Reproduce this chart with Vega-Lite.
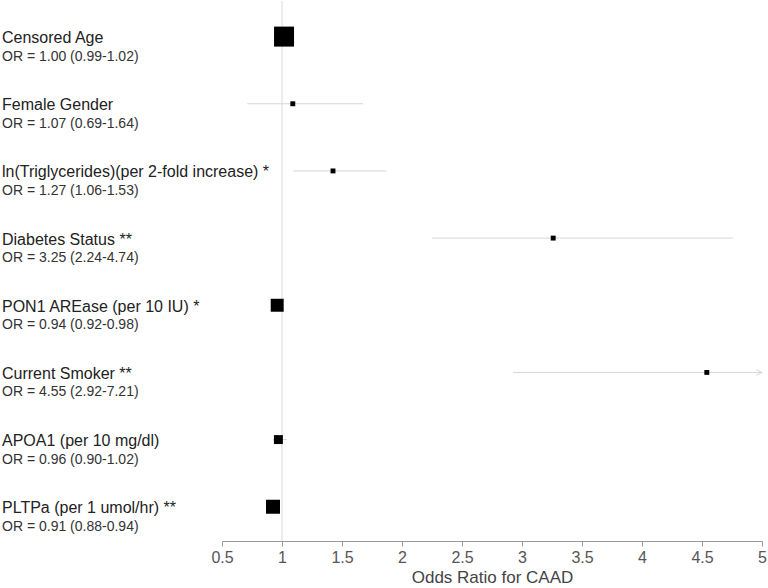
{
  "$schema": "https://vega.github.io/schema/vega-lite/v6.json",
  "padding": {"left": 2, "top": 0, "right": 0, "bottom": 0},
  "background": "white",
  "config": {"view": {"stroke": null}, "font": "Liberation Sans"},
  "datasets": {
    "rows": [
      {"row": 0, "label": "Censored Age", "orText": "OR = 1.00 (0.99-1.02)", "est": 1.017, "lo": 1.0, "hi": 1.03, "weight": 100},
      {"row": 1, "label": "Female Gender", "orText": "OR = 1.07 (0.69-1.64)", "est": 1.09, "lo": 0.71, "hi": 1.675, "weight": 6},
      {"row": 2, "label": "ln(Triglycerides)(per 2-fold increase) *", "orText": "OR = 1.27 (1.06-1.53)", "est": 1.425, "lo": 1.09, "hi": 1.87, "weight": 6},
      {"row": 3, "label": "Diabetes Status **", "orText": "OR = 3.25 (2.24-4.74)", "est": 3.26, "lo": 2.25, "hi": 4.76, "weight": 6},
      {"row": 4, "label": "PON1 AREase (per 10 IU) *", "orText": "OR = 0.94 (0.92-0.98)", "est": 0.96, "lo": 0.93, "hi": 0.99, "weight": 42},
      {"row": 5, "label": "Current Smoker **", "orText": "OR = 4.55 (2.92-7.21)", "est": 4.54, "lo": 2.925, "hi": 7.21, "weight": 6},
      {"row": 6, "label": "APOA1 (per 10 mg/dl)", "orText": "OR = 0.96 (0.90-1.02)", "est": 0.97, "lo": 0.925, "hi": 1.04, "weight": 20},
      {"row": 7, "label": "PLTPa (per 1 umol/hr) **", "orText": "OR = 0.91 (0.88-0.94)", "est": 0.925, "lo": 0.9, "hi": 0.95, "weight": 49}
    ],
    "ref": [{"ref": 1}]
  },
  "hconcat": [
    {
      "width": 220,
      "height": 540,
      "data": {"name": "rows"},
      "layer": [
        {
          "mark": {"type": "text", "align": "left", "baseline": "alphabetic", "fontSize": 16, "dy": 6.5, "color": "#222222"},
          "encoding": {
            "x": {"datum": 0, "type": "quantitative", "scale": {"domain": [0, 1]}, "axis": null},
            "y": {"field": "row", "type": "quantitative", "scale": {"domain": [-0.53, 7.51], "reverse": true}, "axis": null},
            "text": {"field": "label"}
          }
        },
        {
          "mark": {"type": "text", "align": "left", "baseline": "alphabetic", "fontSize": 14, "dy": 24, "color": "#333333"},
          "encoding": {
            "x": {"datum": 0, "type": "quantitative", "scale": {"domain": [0, 1]}, "axis": null},
            "y": {"field": "row", "type": "quantitative", "scale": {"domain": [-0.53, 7.51], "reverse": true}, "axis": null},
            "text": {"field": "orText"}
          }
        }
      ]
    },
    {
      "width": 540,
      "height": 540,
      "layer": [
        {
          "data": {"name": "ref"},
          "mark": {"type": "rule", "color": "#d9d9d9", "strokeWidth": 1},
          "encoding": {
            "x": {"field": "ref", "type": "quantitative", "scale": {"domain": [0.5, 5], "clamp": true, "nice": false, "zero": false}}
          }
        },
        {
          "data": {"name": "rows"},
          "mark": {"type": "rule", "color": "#d6d6d6", "strokeWidth": 1},
          "encoding": {
            "x": {"field": "lo", "type": "quantitative"},
            "x2": {"field": "hi"},
            "y": {"field": "row", "type": "quantitative", "scale": {"domain": [-0.53, 7.51], "reverse": true}, "axis": null}
          }
        },
        {
          "data": {"name": "rows"},
          "transform": [{"filter": "datum.hi > 5"}],
          "mark": {"type": "point", "shape": "M-2,-1L0,0L-2,1", "filled": false, "stroke": "#cccccc", "strokeWidth": 1, "size": 36},
          "encoding": {
            "x": {"field": "hi", "type": "quantitative"},
            "y": {"field": "row", "type": "quantitative", "scale": {"domain": [-0.53, 7.51], "reverse": true}, "axis": null}
          }
        },
        {
          "data": {"name": "rows"},
          "mark": {"type": "square", "color": "#000000", "opacity": 1, "strokeWidth": 0},
          "encoding": {
            "x": {
              "field": "est",
              "type": "quantitative",
              "axis": {
                "title": "Odds Ratio for CAAD",
                "values": [0.5, 1, 1.5, 2, 2.5, 3, 3.5, 4, 4.5, 5],
                "format": "~g",
                "grid": false,
                "domainColor": "#999999",
                "tickColor": "#999999",
                "tickSize": 5,
                "labelFontSize": 16,
                "labelColor": "#555555",
                "labelPadding": 3,
                "labelFlush": false,
                "titleFontSize": 17,
                "titleFontWeight": "normal",
                "titleColor": "#444444",
                "titlePadding": 4
              }
            },
            "y": {"field": "row", "type": "quantitative", "scale": {"domain": [-0.53, 7.51], "reverse": true}, "axis": null},
            "size": {"field": "weight", "type": "quantitative", "scale": {"domain": [0, 100], "range": [0, 400]}, "legend": null}
          }
        }
      ]
    }
  ],
  "spacing": 0,
  "bounds": "flush"
}
